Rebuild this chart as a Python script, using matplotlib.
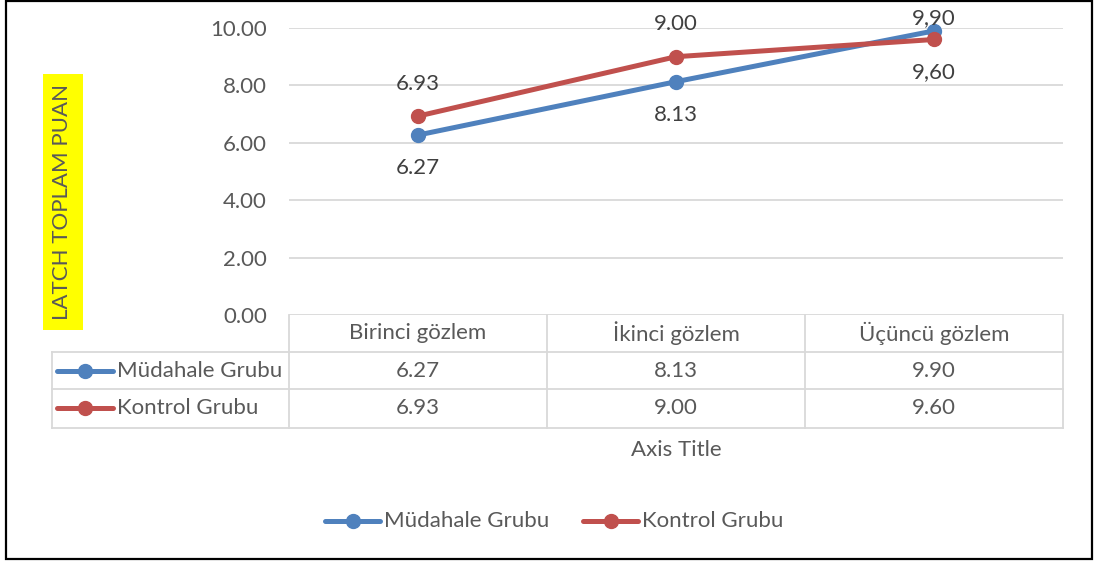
import matplotlib
matplotlib.use("Agg")
import matplotlib.pyplot as plt
from matplotlib.lines import Line2D
from matplotlib.patches import Rectangle

categories = ["Birinci gözlem", "İkinci gözlem", "Üçüncü gözlem"]
series_names = ["Müdahale Grubu", "Kontrol Grubu"]
mudahale = [6.27, 8.13, 9.90]
kontrol = [6.93, 9.00, 9.60]
mudahale_labels = ["6.27", "8.13", "9,90"]
kontrol_labels = ["6.93", "9.00", "9,60"]
table_mudahale = ["6.27", "8.13", "9.90"]
table_kontrol = ["6.93", "9.00", "9.60"]
yticks = [0, 2, 4, 6, 8, 10]
ytick_labels = ["0.00", "2.00", "4.00", "6.00", "8.00", "10.00"]

BLUE = "#4F81BD"
RED = "#C0504D"
TXT = "#595959"
GRID = "#D9D9D9"
FONT = "Lato"
FS = 16

W, H = 1094, 561
fig = plt.figure(figsize=(W / 100, H / 100), dpi=100)
plt.rcParams['font.family'] = [FONT, 'DejaVu Sans']

def fx(px):
    return px / W

def fy(py):
    return 1 - py / H

# outer border
fig.add_artist(Rectangle((fx(6), fy(559)), fx(1092) - fx(6), fy(1) - fy(559),
                         transform=fig.transFigure, fill=False,
                         edgecolor="black", linewidth=1.6, zorder=0))

L, R, T, B = 289, 1063, 28, 315
ax = fig.add_axes([fx(L), fy(B), fx(R) - fx(L), fy(T) - fy(B)])
ax.set_xlim(-0.5, 2.5)
ax.set_ylim(0, 10)
for s in ax.spines.values():
    s.set_visible(False)
ax.set_yticks(yticks)
ax.set_yticklabels(ytick_labels, fontsize=FS, color=TXT)
ax.tick_params(axis='y', length=0, pad=16)
ax.set_xticks([])
ax.grid(axis='y', color=GRID, linewidth=1.3)
ax.set_axisbelow(True)

x = list(range(len(categories)))
ax.plot(x, mudahale, color=BLUE, linewidth=3.6, marker='o', markersize=10,
        solid_capstyle='round', zorder=3, clip_on=False)
ax.plot(x, kontrol, color=RED, linewidth=3.6, marker='o', markersize=10,
        solid_capstyle='round', zorder=4, clip_on=False)

# data labels (offsets in pixels)
m_off = [-33, -33, 13]
k_off = [32, 33, -33]
for i in x:
    ax.annotate(mudahale_labels[i], (i, mudahale[i]), xytext=(0, m_off[i] * 0.72),
                textcoords='offset points', ha='center', va='center',
                fontsize=FS, color="#404040", annotation_clip=False)
    ax.annotate(kontrol_labels[i], (i, kontrol[i]), xytext=(0, k_off[i] * 0.72),
                textcoords='offset points', ha='center', va='center',
                fontsize=FS, color="#404040", annotation_clip=False)

# y-axis title with yellow box
fig.text(fx(62.5), fy(201.5), "LATCH TOPLAM PUAN", rotation=90, ha='center', va='center',
         fontsize=FS, color=TXT,
         bbox=dict(boxstyle='square,pad=0.45', facecolor='#FFFF00', edgecolor='none'))

# data table
def hline(y, x0, x1):
    fig.add_artist(Line2D([fx(x0), fx(x1)], [fy(y), fy(y)], transform=fig.transFigure,
                          color=GRID, linewidth=1.3))
def vline(xp, y0, y1):
    fig.add_artist(Line2D([fx(xp), fx(xp)], [fy(y0), fy(y1)], transform=fig.transFigure,
                          color=GRID, linewidth=1.3))

hline(352, 52, R)
hline(389, 52, R)
hline(428, 52, R)
vline(52, 352, 428)
for i in range(len(categories) + 1):
    xp = L + (R - L) * i / len(categories)
    vline(xp, 315, 428)

for i, c in enumerate(categories):
    xc = fx(L + (R - L) * (i + 0.5) / len(categories))
    fig.text(xc, fy(333), c, ha='center', va='center', fontsize=FS, color=TXT)
    fig.text(xc, fy(371), table_mudahale[i], ha='center', va='center', fontsize=FS, color=TXT)
    fig.text(xc, fy(408), table_kontrol[i], ha='center', va='center', fontsize=FS, color=TXT)

def legend_key(x0, x1, y, color):
    fig.add_artist(Line2D([fx(x0), fx(x1)], [fy(y), fy(y)], transform=fig.transFigure,
                          color=color, linewidth=3.6, solid_capstyle='round'))
    fig.add_artist(Line2D([fx((x0 + x1) / 2)], [fy(y)], transform=fig.transFigure,
                          color=color, marker='o', markersize=10, linestyle='none'))

legend_key(57, 113, 371, BLUE)
fig.text(fx(117), fy(371), series_names[0], ha='left', va='center', fontsize=FS, color=TXT)
legend_key(57, 113, 408, RED)
fig.text(fx(117), fy(408), series_names[1], ha='left', va='center', fontsize=FS, color=TXT)

# axis title
fig.text(fx(676), fy(450), "Axis Title", ha='center', va='center', fontsize=FS, color=TXT)

# bottom legend
legend_key(325, 380, 521, BLUE)
fig.text(fx(384), fy(521), series_names[0], ha='left', va='center', fontsize=FS, color=TXT)
legend_key(583, 638, 521, RED)
fig.text(fx(642), fy(521), series_names[1], ha='left', va='center', fontsize=FS, color=TXT)

fig.savefig("out.png", dpi=100, facecolor='white')
